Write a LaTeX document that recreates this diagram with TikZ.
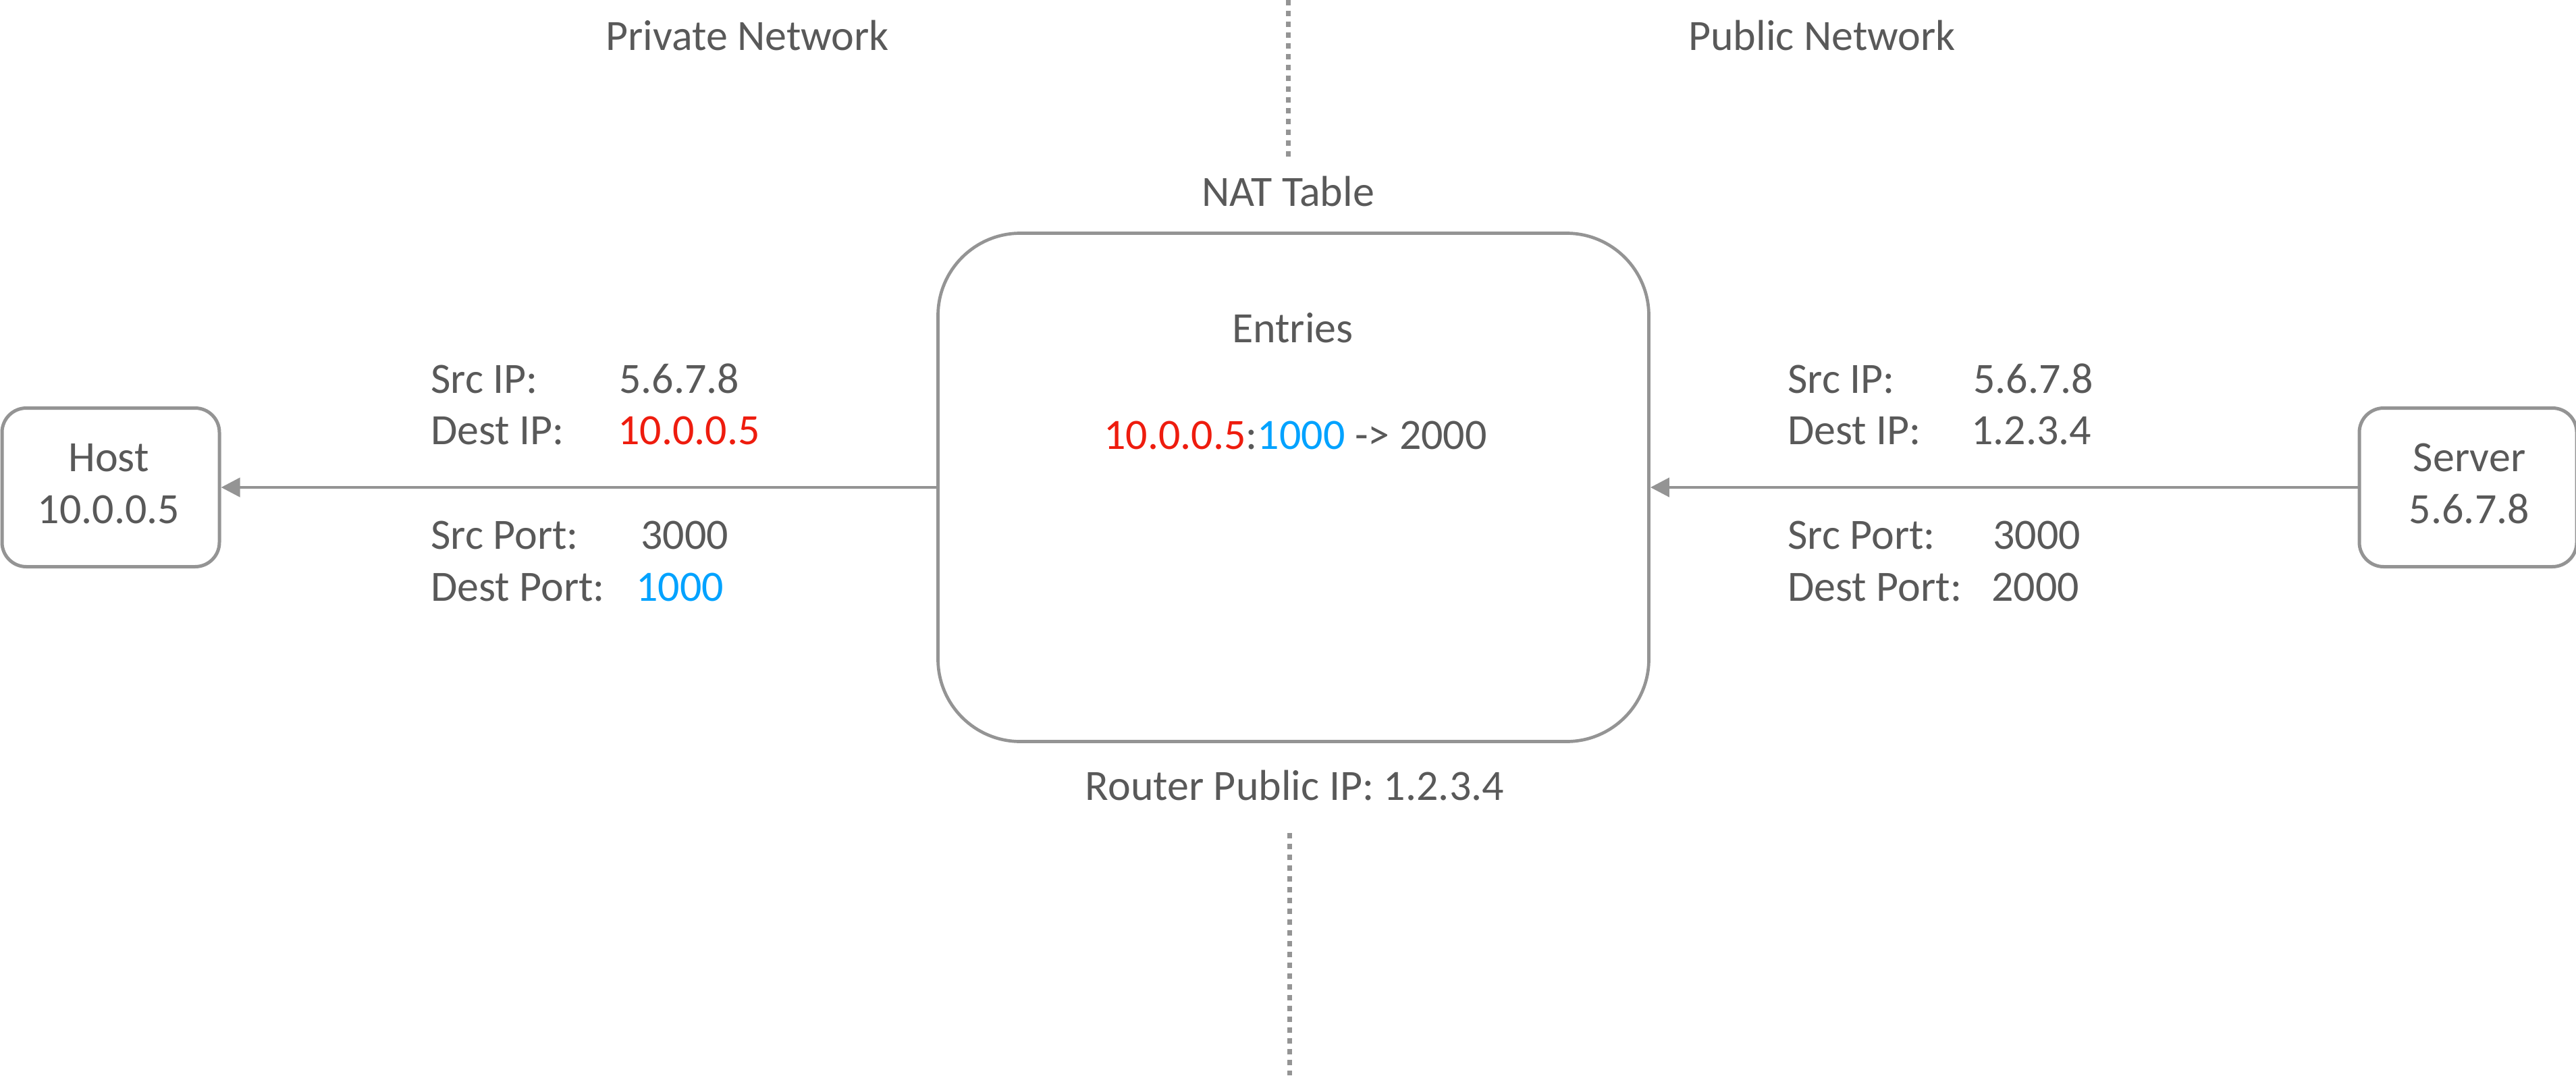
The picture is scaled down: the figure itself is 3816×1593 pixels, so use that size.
\documentclass[tikz,border=0pt]{standalone}
\usepackage{fontspec}
\setmainfont{Carlito}
\usetikzlibrary{arrows.meta}
\definecolor{txtgray}{RGB}{89,89,89}
\definecolor{linegray}{RGB}{148,148,148}
\definecolor{natred}{RGB}{238,28,14}
\definecolor{natblue}{RGB}{0,162,255}
\tikzset{
  lbl/.style={inner sep=0pt, text=txtgray, font=\fontsize{64}{77}\selectfont},
  hostbox/.style={draw=linegray, line width=5pt, rounded corners=36pt,
    minimum width=322pt, minimum height=235pt, inner sep=0pt},
  natbox/.style={draw=linegray, line width=4.7pt, rounded corners=122pt,
    minimum width=1053pt, minimum height=753pt, inner sep=0pt},
  flow/.style={draw=linegray, line width=4.5pt, -{Triangle[length=28pt,width=28pt]}},
  divider/.style={draw=linegray, line width=7pt, dash pattern=on 8pt off 8pt},
}
\begin{document}
\begin{tikzpicture}[x=1pt,y=-1pt]
\useasboundingbox (0,0) rectangle (3816,1593);

% region titles
\node[lbl, anchor=base] (priv) at (1107,74) {Private Network};
\node[lbl, anchor=base] (pub) at (2699,74) {Public Network};

% boundary between the two networks
\coordinate (dA) at (1908,0);
\coordinate (dB) at (1908,232);
\coordinate (dC) at (1910,1234);
\coordinate (dD) at (1910,1593);
\draw[divider] (dA) -- (dB);
\draw[divider] (dC) -- (dD);

% router with its NAT table
\node[natbox] (nat) at (1916,722) {};
\node[lbl, anchor=base] (nattitle) at (1908,305) {NAT Table};
\node[lbl, anchor=base] (entries) at (1915,507) {Entries};
\node[lbl, anchor=base] (entry) at (1919,665)
  {\textcolor{natred}{10.0.0.5}:\textcolor{natblue}{1000} -> 2000};
\node[lbl, anchor=base] (router) at (1918,1185) {Router Public IP: 1.2.3.4};

% end points
\node[hostbox] (host) at (164,722) {};
\node[lbl, anchor=base] (hostA) at (161,698) {Host};
\node[lbl, anchor=base] (hostB) at (161,775) {10.0.0.5};

\node[hostbox] (server) at (3656,722) {};
\node[lbl, anchor=base] (serverA) at (3658,698) {Server};
\node[lbl, anchor=base] (serverB) at (3658,775) {5.6.7.8};

% packet flow
\draw[flow] (server.west) -- (nat.east);
\draw[flow] (nat.west) -- (host.east);

% packet header on the private side
\node[lbl, anchor=base west] (lsip) at (638,582) {Src IP:};
\node[lbl, anchor=base west] (lsipv) at (917,582) {5.6.7.8};
\node[lbl, anchor=base west] (ldip) at (638,658) {Dest IP:};
\node[lbl, anchor=base west, text=natred] (ldipv) at (915,658) {10.0.0.5};
\node[lbl, anchor=base west] (lsp) at (638,813) {Src Port:};
\node[lbl, anchor=base west] (lspv) at (949,813) {3000};
\node[lbl, anchor=base west] (ldp) at (638,890) {Dest Port:};
\node[lbl, anchor=base west, text=natblue] (ldpv) at (942,890) {1000};

% packet header on the public side
\node[lbl, anchor=base west] (rsip) at (2648,582) {Src IP:};
\node[lbl, anchor=base west] (rsipv) at (2923,582) {5.6.7.8};
\node[lbl, anchor=base west] (rdip) at (2648,658) {Dest IP:};
\node[lbl, anchor=base west] (rdipv) at (2920,658) {1.2.3.4};
\node[lbl, anchor=base west] (rsp) at (2648,813) {Src Port:};
\node[lbl, anchor=base west] (rspv) at (2952,813) {3000};
\node[lbl, anchor=base west] (rdp) at (2648,890) {Dest Port:};
\node[lbl, anchor=base west] (rdpv) at (2950,890) {2000};
\end{tikzpicture}
\end{document}
